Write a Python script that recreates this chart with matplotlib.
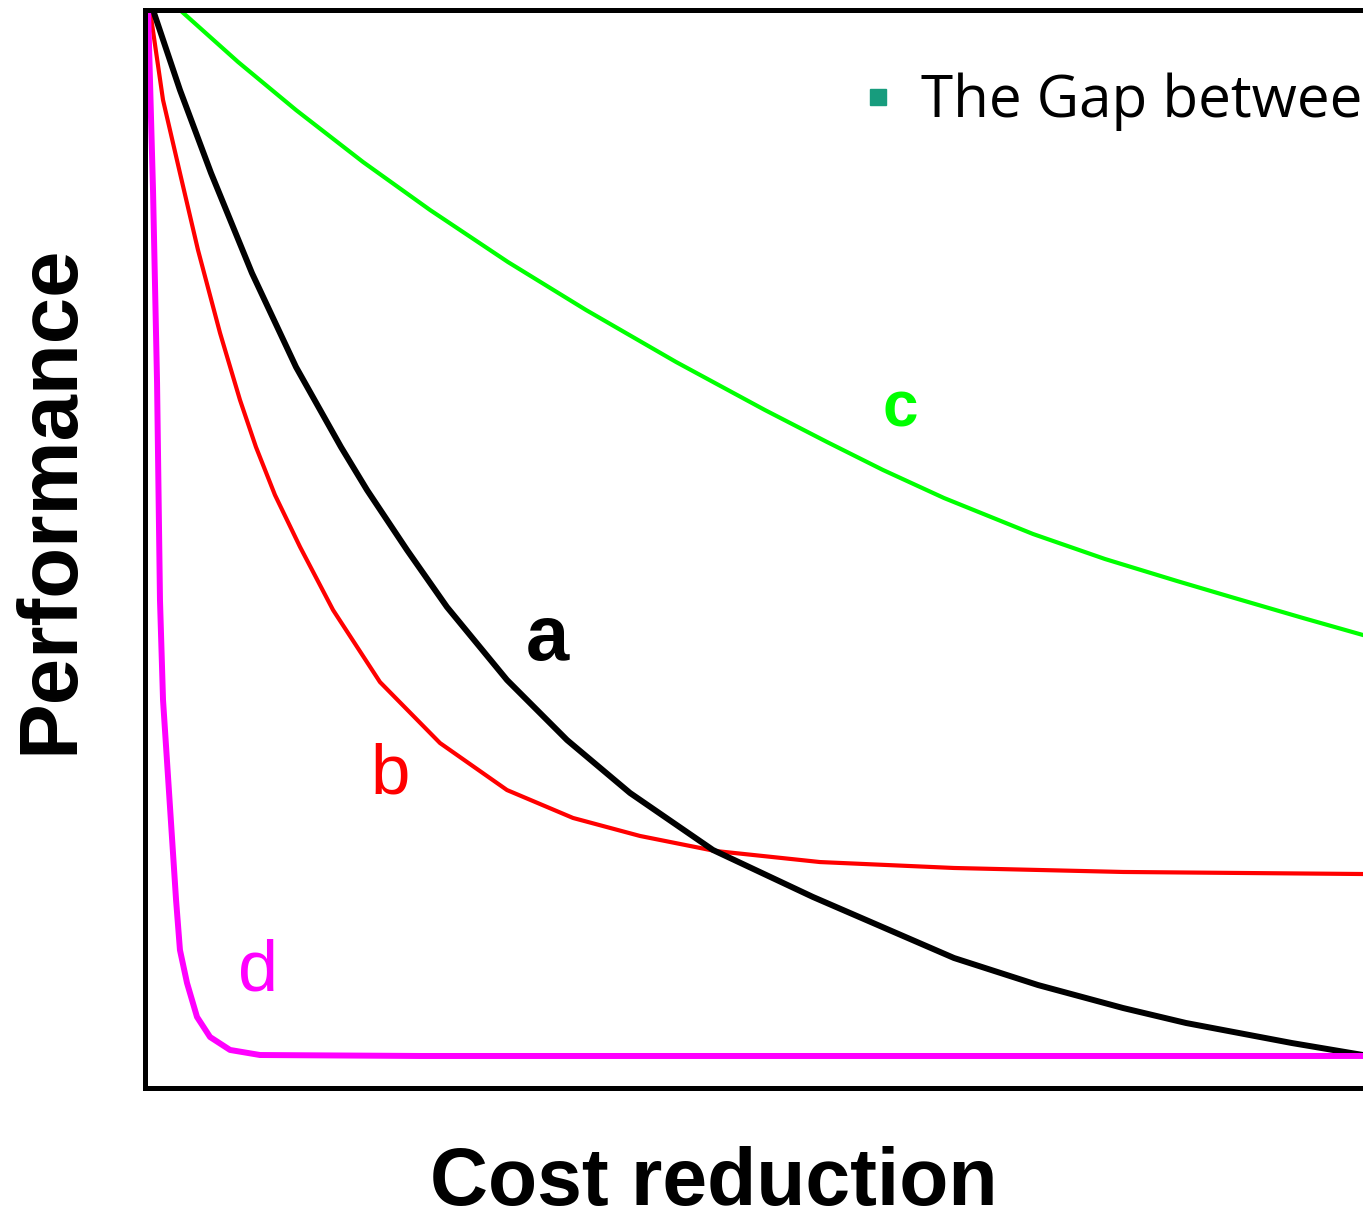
import matplotlib
matplotlib.use("Agg")
import matplotlib.pyplot as plt
from matplotlib.lines import Line2D

# values (x: cost reduction 0-100, y: performance 0-100)
a_x = [0.0, 0.66, 2.87, 5.42, 8.78, 12.40, 16.09, 18.23, 21.51, 24.79, 29.72, 34.65,
       39.82, 46.63, 54.84, 66.42, 73.32, 80.30, 85.47, 94.17, 100]
a_y = [101.6, 100.0, 92.58, 84.88, 75.60, 66.88, 59.46, 55.47, 49.91, 44.62, 37.85, 32.28,
       27.37, 22.08, 17.72, 12.06, 9.55, 7.42, 6.03, 4.17, 3.06]

b_x = [0.0, 0.41, 1.48, 2.87, 4.35, 6.16, 7.80, 9.11, 10.67, 12.73, 15.44, 19.29, 24.22,
       29.72, 35.14, 40.64, 46.80, 55.42, 66.42, 80.30, 100]
b_y = [103.0, 100.0, 91.65, 84.88, 77.74, 70.04, 63.82, 59.46, 55.01, 50.19, 44.34, 37.66, 32.00,
       27.64, 25.05, 23.38, 21.99, 20.96, 20.41, 20.04, 19.85]

c_x = [0.0, 2.87, 7.64, 12.40, 17.90, 23.40, 29.80, 36.21, 43.60, 50.90, 55.99, 60.59,
       65.60, 72.91, 78.82, 84.73, 89.16, 95.07, 100]
c_y = [102.0, 100.0, 95.18, 90.72, 85.90, 81.45, 76.62, 72.17, 67.35, 62.89, 59.93, 57.33,
       54.73, 51.39, 49.07, 47.03, 45.55, 43.60, 42.02]

d_x = [0.1, 0.25, 0.66, 0.99, 1.23, 1.48, 2.55, 2.87, 3.45, 4.27, 5.34, 6.98, 9.44, 22.58, 100]
d_y = [103.0, 100.0, 83.21, 65.40, 45.27, 35.99, 17.44, 12.80, 9.74, 6.59, 4.73, 3.53, 3.06, 2.97, 2.97]

labels = ["a", "b", "c", "d"]
label_pos = [(33.0, 41.6), (20.1, 29.0), (62.0, 62.9), (9.3, 10.8)]
legend_label = "The Gap between"

fig = plt.figure(figsize=(13.63, 12.2), dpi=100)
ax = fig.add_axes([145 / 1363, 132 / 1220, 1218 / 1363, 1078 / 1220])

ax.plot(c_x, c_y, color="#00ff00", lw=3.0, solid_joinstyle="round")
ax.plot(b_x, b_y, color="#ff0000", lw=3.0, solid_joinstyle="round")
ax.plot(a_x, a_y, color="black", lw=4.3, solid_joinstyle="round")
ax.plot(d_x, d_y, color="#ff00ff", lw=4.3, solid_joinstyle="round")

ax.set_xlim(0, 100)
ax.set_ylim(0, 100)
ax.set_xticks([])
ax.set_yticks([])
for side in ["left", "top", "bottom"]:
    ax.spines[side].set_linewidth(3.6)
ax.spines["right"].set_visible(False)

font = "Liberation Sans"
colors = ["black", "#ff0000", "#00ff00", "#ff00ff"]
weights = ["bold", "normal", "bold", "normal"]
sizes = [56, 51, 46, 52]
for lab, (lx, ly), col, w, s in zip(labels, label_pos, colors, weights, sizes):
    ax.text(lx, ly, lab, color=col, fontsize=s, fontweight=w, family=font,
            ha="center", va="center")

fig.text(50 / 1363, 1 - 499 / 1220, "Performance", rotation=90, fontsize=60,
         fontweight="bold", family=font, ha="center", va="center")
fig.text(714 / 1363, 1 - 1184 / 1220, "Cost reduction", fontsize=58,
         fontweight="bold", family=font, ha="center", va="center")

handle = Line2D([], [], marker="s", ls="none", color="#179c7d", markersize=12)
fig.legend([handle], [legend_label], loc="center left",
           bbox_to_anchor=(860 / 1363, 1 - 102 / 1220), frameon=False,
           prop={"family": "Open Sans", "size": 42}, handlelength=0.6,
           handletextpad=0.45, borderpad=0, borderaxespad=0)

fig.savefig("out.png", dpi=100)
